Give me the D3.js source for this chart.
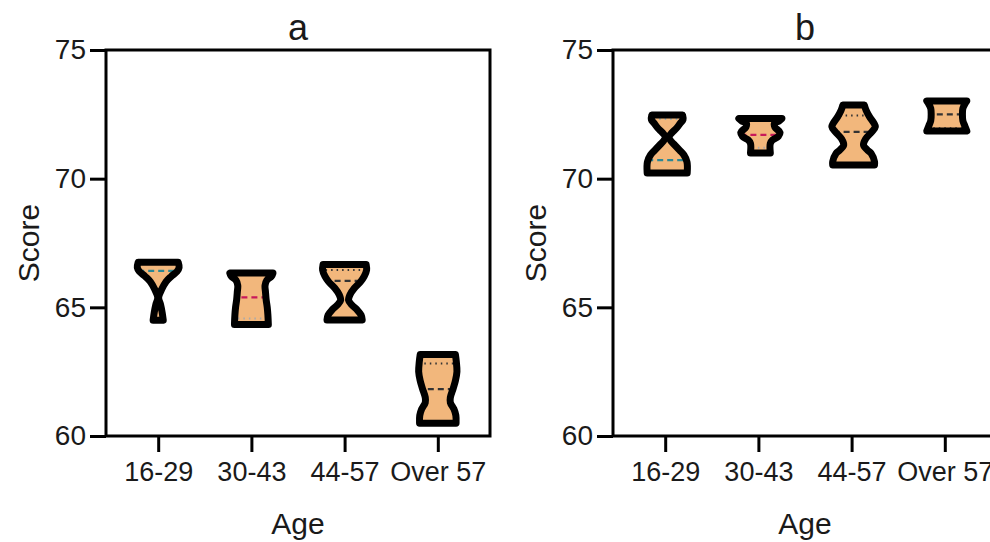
<!DOCTYPE html>
<html>
<head>
<meta charset="utf-8">
<script src="https://cdn.jsdelivr.net/npm/d3@7"></script>
<style>
  body { margin: 0; background: #fff; }
  text { font-family: "Liberation Sans", Arial, sans-serif; fill: #1a1a1a; }
</style>
</head>
<body>
<script>
// categories and ticks
const ageGroups = ["16-29", "30-43", "44-57", "Over 57"];
const yTicks = [60, 65, 70, 75];

// panel a: quartiles
const aMedian = [66.42, 65.39, 66.03, 61.82];
const aQ1 = [65.38, 64.57, 64.57, 60.56];
const aQ3 = [66.75, 66.33, 66.45, 62.82];
// violin outlines: [score, relative density]
const aShape = [
    [[66.75, .91], [66.55, .95], [66.4, .86], [66.2, .59], [66.0, .36], [65.7, .16], [65.38, .02], [65.1, .11], [64.8, .18], [64.5, .23]],
    [[66.33, .98], [66.2, .91], [66.05, .7], [65.85, .62], [65.6, .64], [65.3, .67], [65.0, .72], [64.7, .75], [64.33, .77]],
    [[66.66, .98], [66.45, 1], [66.2, .89], [66.0, .73], [65.75, .45], [65.5, .25], [65.28, .18], [65.1, .32], [64.9, .57], [64.7, .75], [64.51, .8]],
    [[63.17, .8], [62.9, .84], [62.5, .87], [62.15, .8], [61.85, .7], [61.5, .57], [61.3, .57], [61.05, .73], [60.8, .82], [60.5, .83]]
];

// panel b
const bMedian = [70.72, 71.70, 71.82, 72.5];
const bQ1 = [70.25, 71.2, 70.6, 71.96];
const bQ3 = [72.32, 72.34, 72.45, 72.97];
const bShape = [
    [[72.47, .7], [72.3, .72], [72.15, .59], [71.96, .42], [71.8, .23], [71.63, .08], [71.45, .18], [71.31, .34], [71.1, .57], [70.92, .76], [70.65, .9], [70.22, .91]],
    [[72.34, .98], [72.25, .86], [72.15, .64], [72.0, .66], [71.8, .89], [71.65, .82], [71.5, .55], [71.37, .45], [71.0, .45]],
    [[72.86, .49], [72.65, .57], [72.41, .72], [72.15, .93], [72.02, .99], [71.82, .83], [71.55, .55], [71.31, .45], [71.1, .64], [70.98, .8], [70.66, .95], [70.53, .95]],
    [[73.02, .91], [72.9, .82], [72.73, .73], [72.5, .71], [72.25, .73], [72.05, .82], [71.85, .91]]
];

const medianColors = ["#2b8794", "#c8195a", "#333", "#333"];
const quartColors = ["#9aa", "#aaa", "#333", "#333"];

var W = 990, H = 542;
var svg = d3.select("body").append("svg")
    .attr("width", W)
    .attr("height", H);

function buildPanel(id, title, left, shapes, medians, q1s, q3s) {
    var top = 50, w = 384, h = 386;

    var y = d3.scaleLinear().domain([60, 75]).range([top + h, top]);
    var x = d3.scalePoint().domain(ageGroups).range([left, left + w]).padding(0.56);
    var wScale = d3.scaleLinear().domain([0, 1]).range([0, 22]);

    var g = svg.append("g");

    // violins
    ageGroups.forEach(function (grp, i) {
        var cx = x(grp) + (id == "b" ? 2 : 0);
        var area = d3.area()
            .y(function (d) { return y(d[0]); })
            .x0(function (d) { return cx - wScale(d[1]); })
            .x1(function (d) { return cx + wScale(d[1]); })
            .curve(d3.curveCatmullRom);
        var path = area(shapes[i]);
        var clipId = "clip-" + id + i;

        g.append("clipPath").attr("id", clipId)
            .append("path").attr("d", path);

        g.append("path")
            .attr("d", path)
            .attr("fill", "#f2b77c");

        var lines = g.append("g").attr("clip-path", "url(#" + clipId + ")");
        lines.append("line")
            .attr("x1", cx - 30).attr("x2", cx + 30)
            .attr("y1", y(medians[i])).attr("y2", y(medians[i]))
            .attr("stroke", medianColors[i])
            .attr("stroke-width", 2.2)
            .attr("stroke-dasharray", "6,4");
        [q1s[i], q3s[i]].forEach(function (q) {
            lines.append("line")
                .attr("x1", cx - 30).attr("x2", cx + 30)
                .attr("y1", y(q)).attr("y2", y(q))
                .attr("stroke", quartColors[i])
                .attr("stroke-width", 2)
                .attr("stroke-dasharray", "1.5,4");
        });

        g.append("path")
            .attr("d", path)
            .attr("fill", "none")
            .attr("stroke", "#000")
            .attr("stroke-width", 7)
            .attr("stroke-linejoin", "round");
    });

    // frame
    g.append("rect")
        .attr("x", left).attr("y", top)
        .attr("width", w).attr("height", h)
        .attr("fill", "none")
        .attr("stroke", "#000")
        .attr("stroke-width", 3);

    var yAxis = g.append("g")
        .attr("transform", "translate(" + left + ",0)")
        .call(d3.axisLeft(y).tickValues(yTicks).tickSize(16).tickPadding(4));
    yAxis.select(".domain").remove();
    yAxis.selectAll("line").attr("stroke-width", 3).attr("stroke", "#000");
    yAxis.selectAll("text").style("font-size", "28px").attr("fill", "#1a1a1a");

    var xAxis = g.append("g")
        .attr("transform", "translate(0," + (top + h) + ")")
        .call(d3.axisBottom(x).tickSize(16).tickPadding(10));
    xAxis.select(".domain").remove();
    xAxis.selectAll("line").attr("stroke-width", 3).attr("stroke", "#000");
    xAxis.selectAll("text").style("font-size", "27px").attr("fill", "#1a1a1a");

    // titles
    g.append("text")
        .attr("x", left + w / 2).attr("y", 40)
        .attr("text-anchor", "middle")
        .style("font-size", "36px")
        .text(title);

    g.append("text")
        .attr("x", left + w / 2).attr("y", 534)
        .attr("text-anchor", "middle")
        .style("font-size", "30px")
        .text("Age");

    g.append("text")
        .attr("transform", "translate(" + (left - 67) + "," + (top + h / 2) + ") rotate(-90)")
        .attr("text-anchor", "middle")
        .style("font-size", "30px")
        .text("Score");
}

buildPanel("a", "a", 106, aShape, aMedian, aQ1, aQ3);
buildPanel("b", "b", 613, bShape, bMedian, bQ1, bQ3);
</script>
</body>
</html>
